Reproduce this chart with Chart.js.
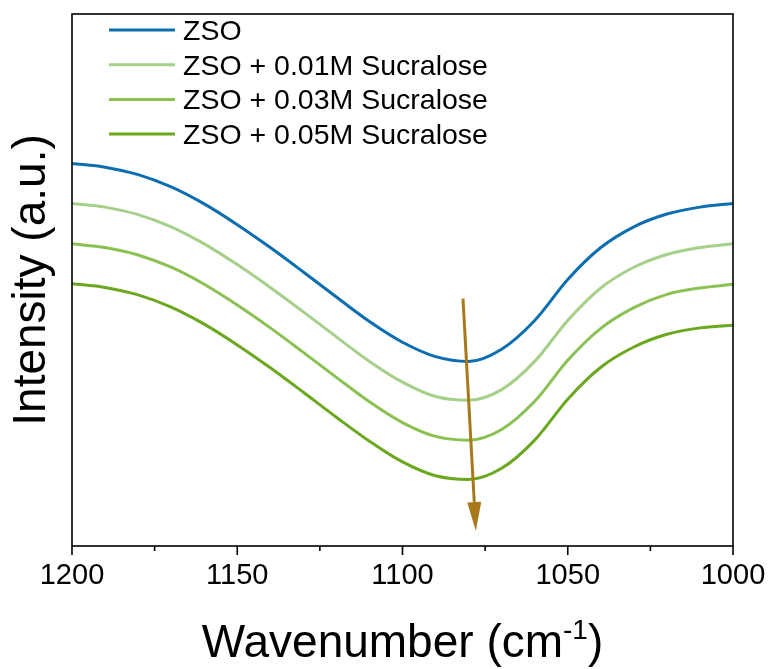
<!DOCTYPE html>
<html>
<head>
<meta charset="utf-8">
<script src="https://cdn.jsdelivr.net/npm/chart.js@4.4.1/dist/chart.umd.min.js"></script>
<style>
  html, body { margin: 0; padding: 0; background: #fff; }
  #wrap { width: 772px; height: 669px; }
</style>
</head>
<body>
<div id="wrap"><canvas id="ftir-chart" width="772" height="669"></canvas></div>
<script>
'use strict';

// ==================== DATA ====================

const wavenumbers = [1200, 1190, 1180, 1170, 1160, 1150, 1140, 1130, 1120, 1110, 1100,
                     1090, 1080, 1070, 1060, 1050, 1040, 1030, 1020, 1010, 1000];

const seriesLabels = ['ZSO', 'ZSO + 0.01M Sucralose', 'ZSO + 0.03M Sucralose', 'ZSO + 0.05M Sucralose'];
const seriesColors = ['#0c6eb1', '#a6d08a', '#8bc152', '#6ba81f'];

const zso     = [71.9, 71.2, 69.8, 67.5, 64.3, 60.4, 56.1, 51.5, 46.8, 42.2, 38.3,
                 35.6, 34.7, 37.0, 42.4, 50.1, 56.1, 60.0, 62.4, 63.7, 64.4];
const suc001  = [64.4, 63.7, 62.3, 60.0, 56.8, 52.9, 48.6, 44.0, 39.3, 34.7, 30.8,
                 28.1, 27.4, 29.4, 34.7, 42.4, 48.5, 52.4, 54.8, 56.1, 56.8];
const suc003  = [56.8, 56.1, 54.7, 52.4, 49.2, 45.3, 41.0, 36.4, 31.7, 27.1, 23.2,
                 20.6, 19.9, 21.9, 27.2, 34.9, 40.9, 44.8, 47.3, 48.5, 49.2];
const suc005  = [49.3, 48.6, 47.2, 44.9, 41.7, 37.8, 33.5, 28.9, 24.2, 19.7, 15.8,
                 13.2, 12.5, 14.6, 19.9, 27.6, 33.6, 37.4, 39.8, 41.0, 41.5];

const xTicks = [1200, 1150, 1100, 1050, 1000];
const xMinorTicks = [1175, 1125, 1075, 1025];

// arrow start/end in data units (wavenumber, intensity)
const arrowFrom = [1081.7, 46.5];
const arrowTo = [1077.8, 2.8];

const FONT = 'Arial, "Liberation Sans", sans-serif';

// ==================== PLUGIN: frame, ticks, legend, titles, arrow ====================

const decorPlugin = {
    id: 'decor',
    afterDraw(chart) {
        const { ctx, chartArea: a, scales } = chart;
        const xs = scales.x, ys = scales.y;
        ctx.save();

        // frame
        ctx.strokeStyle = '#000';
        ctx.lineWidth = 1.6;
        ctx.strokeRect(a.left, a.top, a.right - a.left, a.bottom - a.top);

        // x ticks (outward)
        xTicks.forEach(v => {
            const px = xs.getPixelForValue(v);
            ctx.beginPath(); ctx.moveTo(px, a.bottom); ctx.lineTo(px, a.bottom + 9); ctx.stroke();
        });
        xMinorTicks.forEach(v => {
            const px = xs.getPixelForValue(v);
            ctx.beginPath(); ctx.moveTo(px, a.bottom); ctx.lineTo(px, a.bottom + 5); ctx.stroke();
        });

        // legend
        ctx.font = '28.5px ' + FONT;
        ctx.textBaseline = 'middle';
        ctx.textAlign = 'left';
        chart.data.datasets.forEach((ds, i) => {
            const y = 30 + i * 34.7;
            ctx.strokeStyle = ds.borderColor;
            ctx.lineWidth = 3;
            ctx.beginPath(); ctx.moveTo(109, y); ctx.lineTo(175, y); ctx.stroke();
            ctx.fillStyle = '#000';
            ctx.fillText(ds.label, 183, y + 2);
        });

        // arrow
        const x0 = xs.getPixelForValue(arrowFrom[0]), y0 = ys.getPixelForValue(arrowFrom[1]);
        const x1 = xs.getPixelForValue(arrowTo[0]), y1 = ys.getPixelForValue(arrowTo[1]);
        const ang = Math.atan2(y1 - y0, x1 - x0);
        const headLen = 29, headHalf = 7;
        const bx = x1 - headLen * Math.cos(ang), by = y1 - headLen * Math.sin(ang);
        ctx.strokeStyle = '#a8791a';
        ctx.fillStyle = '#a8791a';
        ctx.lineWidth = 3;
        ctx.beginPath(); ctx.moveTo(x0, y0); ctx.lineTo(bx, by); ctx.stroke();
        ctx.beginPath();
        ctx.moveTo(x1, y1);
        ctx.lineTo(bx + headHalf * Math.sin(ang), by - headHalf * Math.cos(ang));
        ctx.lineTo(bx - headHalf * Math.sin(ang), by + headHalf * Math.cos(ang));
        ctx.closePath();
        ctx.fill();

        // x title with superscript
        ctx.fillStyle = '#000';
        ctx.textBaseline = 'alphabetic';
        const big = '46px ' + FONT, small = '28px ' + FONT;
        const p1 = 'Wavenumber (cm', p2 = '-1', p3 = ')';
        ctx.font = big; const w1 = ctx.measureText(p1).width, w3 = ctx.measureText(p3).width;
        ctx.font = small; const w2 = ctx.measureText(p2).width;
        let tx = (a.left + a.right) / 2 - (w1 + w2 + w3) / 2;
        const base = 657;
        ctx.font = big; ctx.fillText(p1, tx, base); tx += w1;
        ctx.font = small; ctx.fillText(p2, tx, base - 18); tx += w2;
        ctx.font = big; ctx.fillText(p3, tx, base);

        // y title
        ctx.save();
        ctx.translate(45, (a.top + a.bottom) / 2);
        ctx.rotate(-Math.PI / 2);
        ctx.textAlign = 'center';
        ctx.font = big;
        ctx.fillText('Intensity (a.u.)', 0, 0);
        ctx.restore();

        ctx.restore();
    }
};

// ==================== CHART ====================

function buildDataset(label, values, color) {
    return {
        label: label,
        data: values.map((v, i) => ({ x: wavenumbers[i], y: v })),
        borderColor: color,
        backgroundColor: color,
        borderWidth: 3,
        pointRadius: 0,
        cubicInterpolationMode: 'monotone',
        fill: false
    };
}

const ctx = document.getElementById('ftir-chart').getContext('2d');
new Chart(ctx, {
    type: 'line',
    data: {
        datasets: [
            buildDataset(seriesLabels[0], zso, seriesColors[0]),
            buildDataset(seriesLabels[1], suc001, seriesColors[1]),
            buildDataset(seriesLabels[2], suc003, seriesColors[2]),
            buildDataset(seriesLabels[3], suc005, seriesColors[3])
        ]
    },
    options: {
        responsive: false,
        animation: false,
        layout: { padding: { top: 14, right: 0, left: 0, bottom: 0 } },
        scales: {
            x: {
                type: 'linear',
                reverse: true,
                min: 1000,
                max: 1200,
                afterFit: s => { s.height = 123; s.paddingLeft = 0; s.paddingRight = 39; },
                afterBuildTicks: s => { s.ticks = xTicks.map(v => ({ value: v })); },
                grid: { display: false, drawTicks: false },
                border: { display: false },
                ticks: {
                    color: '#000',
                    font: { family: FONT, size: 29 },
                    padding: 13,
                    maxRotation: 0,
                    callback: v => String(v)
                }
            },
            y: {
                min: 0,
                max: 100,
                afterFit: s => { s.width = 72; },
                grid: { display: false, drawTicks: false },
                border: { display: false },
                ticks: { display: false }
            }
        },
        plugins: {
            legend: { display: false },
            tooltip: { enabled: false }
        }
    },
    plugins: [decorPlugin]
});
</script>
</body>
</html>
